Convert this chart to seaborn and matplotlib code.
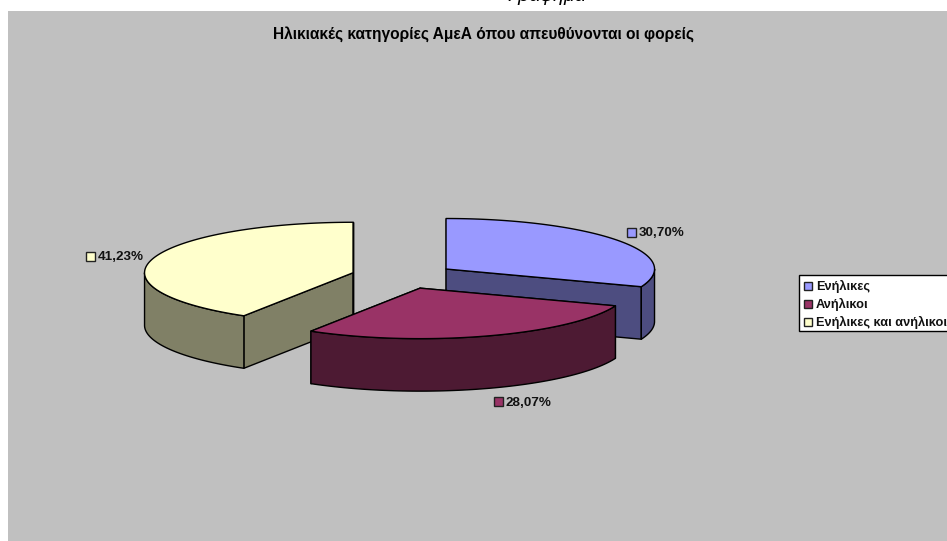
import numpy as np
import matplotlib
matplotlib.use('Agg')
import matplotlib.pyplot as plt
import seaborn as sns

TITLE = 'Ηλικιακές κατηγορίες ΑμεΑ όπου απευθύνονται οι φορείς'
CAPTION = 'Γράφημα'
categories = ['Ενήλικες', 'Ανήλικοι', 'Ενήλικες και ανήλικοι']
values = [30.70, 28.07, 41.23]
value_labels = ['30,70%', '28,07%', '41,23%']
top_colors = ['#9999FF', '#993366', '#FFFFCC']
side_colors = ['#4D4D80', '#4D1A33', '#808066']

# pie geometry in pixels
CX, CY = 403.2, 276.2
RX, RY = 208.5, 50.5
DEPTH = 52.5
EXPLODE = 0.25
label_pos = [(627, 232), (494, 401.5), (86, 256)]
draw_order = [0, 2, 1]

sns.set_theme(style='white')
plt.rcParams['font.family'] = ['Liberation Sans', 'DejaVu Sans']

fig = plt.figure(figsize=(9.47, 5.41), dpi=100, facecolor='white')
ax = fig.add_axes([0, 0, 1, 1])
ax.set_xlim(0, 947)
ax.set_ylim(541, 0)
ax.axis('off')

ax.add_patch(plt.Rectangle((8, 11), 945, 540, facecolor='#C0C0C0', edgecolor='none', zorder=0))
ax.text(507, 1, CAPTION, style='italic', fontsize=14, color='black', ha='left', va='baseline', clip_on=False)
ax.text(483.5, 34, TITLE, fontsize=11.2, fontweight='bold', color='black', ha='center', va='center')


def outline(t, apex, drop=0):
    return apex[0] + RX * np.sin(t), apex[1] - RY * np.cos(t) + drop


def poly(xs, ys, color, z):
    ax.fill(xs, ys, facecolor=color, edgecolor='black', linewidth=1.0, joinstyle='round', zorder=z)


edges = np.radians(np.concatenate([[0], np.cumsum(values)]) * 3.6)
for z, i in enumerate(draw_order):
    t0, t1 = edges[i], edges[i + 1]
    mid = (t0 + t1) / 2
    apex = (CX + EXPLODE * RX * np.sin(mid), CY - EXPLODE * RY * np.cos(mid))
    base = 1 + z * 3
    # radial faces
    for t in (t0, t1):
        ex, ey = outline(t, apex)
        poly([apex[0], ex, ex, apex[0]], [apex[1], ey, ey + DEPTH, apex[1] + DEPTH], side_colors[i], base)
    # outer wall, front half only
    lo, hi = max(t0, np.pi / 2), min(t1, np.pi * 1.5)
    if hi > lo:
        ts = np.linspace(lo, hi, 80)
        wx, wy = outline(ts, apex)
        poly(np.r_[wx, wx[::-1]], np.r_[wy, wy[::-1] + DEPTH], side_colors[i], base + 1)
    # top surface
    ts = np.linspace(t0, t1, 160)
    tx, ty = outline(ts, apex)
    poly(np.r_[apex[0], tx], np.r_[apex[1], ty], top_colors[i], base + 2)

# value labels with colour keys
for (x, y), txt, col in zip(label_pos, value_labels, top_colors):
    ax.add_patch(plt.Rectangle((x, y - 4.5), 9, 9, facecolor=col, edgecolor='#222222', linewidth=1.0, zorder=30))
    ax.text(x + 11.5, y + 1, txt, fontsize=9.7, fontweight='bold', color='#111111', va='center', zorder=30)

# legend box, runs off the right edge
ax.add_patch(plt.Rectangle((799, 275), 160, 56, facecolor='white', edgecolor='black', linewidth=1.0, zorder=30))
for k, (name, col) in enumerate(zip(categories, top_colors)):
    y = 285.5 + k * 18.2
    ax.add_patch(plt.Rectangle((803.5, y - 3.5), 8, 8, facecolor=col, edgecolor='#222222', linewidth=1.0, zorder=31))
    ax.text(816, y + 1, name, fontsize=9.2, fontweight='bold', color='#111111', va='center', zorder=31)

fig.savefig('out.png', dpi=100)
